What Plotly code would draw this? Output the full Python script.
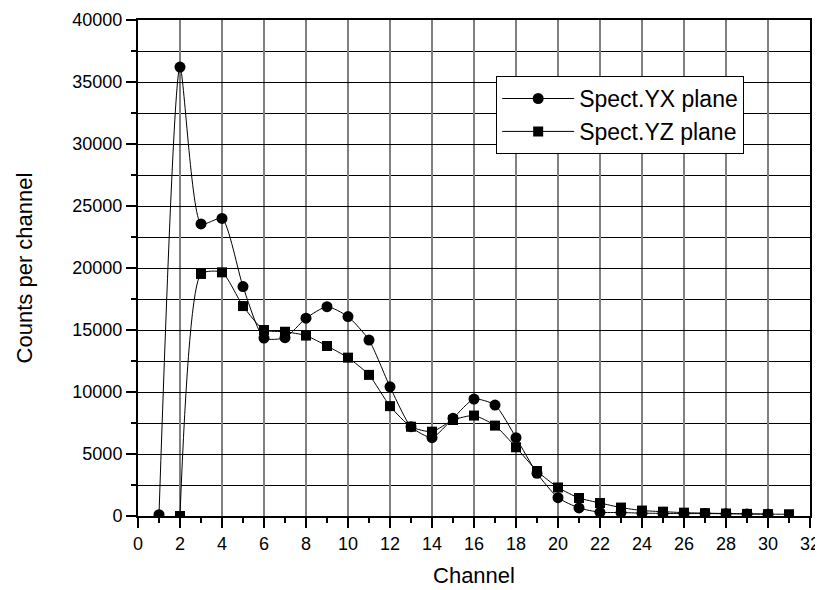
import plotly.graph_objects as go

# Data
channels_yx = list(range(1, 31))
counts_yx = [100, 36200, 23550, 24000, 18500, 14350, 14380, 15950, 16880, 16080,
             14190, 10420, 7200, 6320, 7880, 9430, 8950, 6320, 3440, 1480,
             650, 300, 280, 230, 210, 190, 200, 180, 170, 150]

channels_yz = list(range(2, 32))
counts_yz = [0, 19520, 19650, 16930, 15000, 14860, 14550, 13710, 12770, 11380,
             8860, 7200, 6800, 7740, 8100, 7290, 5540, 3630, 2300, 1450,
             1050, 680, 440, 350, 270, 230, 200, 170, 150, 140]

series_names = ["Spect.YX plane", "Spect.YZ plane"]
x_tick_vals = list(range(0, 33, 2))
y_tick_vals = list(range(0, 40001, 5000))

FONT = "Arial, 'Liberation Sans', sans-serif"

fig = go.Figure()
fig.add_trace(go.Scatter(
    x=channels_yx, y=counts_yx, name=series_names[0], mode="lines+markers",
    line=dict(color="black", width=1, shape="spline", smoothing=0.6),
    marker=dict(symbol="circle", size=11, color="black"),
))
fig.add_trace(go.Scatter(
    x=channels_yz, y=counts_yz, name=series_names[1], mode="lines+markers",
    line=dict(color="black", width=1, shape="spline", smoothing=0.6),
    marker=dict(symbol="square", size=10, color="black"),
))

# The page body has an 8px margin, so the figure is sized and offset to fit
fig.update_layout(
    width=815, height=582,
    margin=dict(l=130, r=13, t=12, b=74, autoexpand=False),
    paper_bgcolor="white", plot_bgcolor="white",
    font=dict(family=FONT, color="black", size=18),
    showlegend=True,
    legend=dict(
        x=0.533, y=0.887, xanchor="left", yanchor="top",
        bgcolor="white", bordercolor="black", borderwidth=1,
        font=dict(size=23, family=FONT, color="black"),
        tracegroupgap=0, itemwidth=72,
    ),
)

fig.update_xaxes(
    range=[0, 32], tickmode="array", tickvals=x_tick_vals,
    ticktext=[str(v) for v in x_tick_vals],
    ticks="outside", ticklen=10, tickwidth=2, tickcolor="black",
    showline=True, linewidth=2, linecolor="black", mirror=True,
    showgrid=True, gridcolor="#808080", gridwidth=1.5,
    zeroline=False, automargin=False,
    minor=dict(dtick=1, tick0=0, ticks="outside", ticklen=5, tickwidth=2,
               tickcolor="black", showgrid=False),
    title=dict(text="Channel", font=dict(size=22, family=FONT), standoff=15),
    tickfont=dict(size=18, family=FONT),
)
fig.update_yaxes(
    range=[0, 40000], tickmode="array", tickvals=y_tick_vals,
    ticktext=[str(v) for v in y_tick_vals],
    ticks="outside", ticklen=10, tickwidth=2, tickcolor="black",
    showline=True, linewidth=2, linecolor="black", mirror=True,
    showgrid=True, gridcolor="black", gridwidth=1,
    zeroline=False, automargin=False,
    minor=dict(dtick=2500, tick0=0, ticks="outside", ticklen=5, tickwidth=2,
               tickcolor="black", showgrid=True, gridcolor="black", gridwidth=1),
    title=dict(text="Counts per channel", font=dict(size=22, family=FONT), standoff=34),
    tickfont=dict(size=18, family=FONT),
)

fig.write_html("out.html")
